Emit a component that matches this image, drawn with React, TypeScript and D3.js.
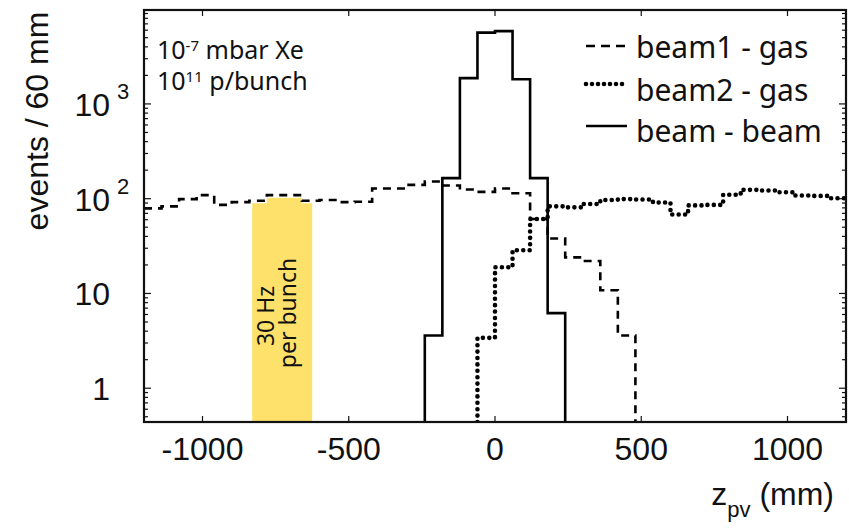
import React, { useEffect, useRef } from 'react';
import * as d3 from 'd3';

const W = 849;
const H = 529;

// histograms, 60 mm bins (events / 60 mm)
const binWidth = 60;
const beam1Start = -1200;
const beam1Values = [79, 83, 99, 109, 86, 92, 95, 109, 109, 95, 97, 92, 93, 128, 128, 140, 152, 138, 125, 118, 128, 114, 61, 38, 24, 22, 10.8, 3.6];
const beam2Start = -60;
const beam2Values = [3.4, 18.9, 28.6, 61, 83, 81, 88, 97, 99, 98, 91, 68, 85, 86, 110, 124, 122, 117, 108, 107, 101];
const beamBeamStart = -240;
const beamBeamValues = [3.6, 165, 1870, 5650, 5870, 1820, 165, 6.2];

// highlighted band (mm)
const bandRange = [-830, -625];
const bandLines = ['30 Hz', 'per bunch'];

const xTicks = [-1000, -500, 0, 500, 1000];
const yTicks = [1, 10, 100, 1000];
const yTickBase = ['1', '10', '10', '10'];
const yTickExp = ['', '', '2', '3'];

const legendLabels = ['beam1 - gas', 'beam2 - gas', 'beam - beam'];
const noteLines = [
  { base: '10', exp: '-7', rest: ' mbar Xe' },
  { base: '10', exp: '11', rest: ' p/bunch' },
];

const axisFont = '"Liberation Sans", Arial, Helvetica, sans-serif';
const textFont = '"Noto Sans", "Open Sans", sans-serif';

const margin = { top: 10, right: 3, bottom: 107, left: 144 };

// step outline of a histogram, optionally dropping to the floor at the ends
const stepPoints = (start: number, values: number[], floor: number, dropStart: boolean, dropEnd: boolean) => {
  const pts: [number, number][] = [];
  if (dropStart) pts.push([start, floor]);
  values.forEach((v, i) => {
    const x0 = start + i * binWidth;
    pts.push([x0, v], [x0 + binWidth, v]);
  });
  if (dropEnd) pts.push([start + values.length * binWidth, floor]);
  return pts;
};

const drawChart = (el: SVGSVGElement) => {
  const svg = d3.select(el);
  svg.selectAll('*').remove();

  const x = d3.scaleLinear().domain([-1200, 1200]).range([margin.left, W - margin.right]);
  const y = d3.scaleLog().domain([0.44, 9800]).range([H - margin.bottom, margin.top]);
  const [x0, x1] = x.range();
  const [yb, yt] = y.range();
  const floor = y.domain()[0];

  svg.append('rect').attr('width', W).attr('height', H).attr('fill', '#fff');

  svg.append('clipPath').attr('id', 'plotClip')
    .append('rect').attr('x', x0).attr('y', yt).attr('width', x1 - x0).attr('height', yb - yt);

  const plot = svg.append('g').attr('clip-path', 'url(#plotClip)');

  // yellow band: area under beam1 histogram within the band range
  const b1 = stepPoints(beam1Start, beam1Values, floor, false, true);
  const band = b1.filter((d) => d[0] > bandRange[0] && d[0] < bandRange[1]);
  const valAt = (mm: number) => beam1Values[Math.floor((mm - beam1Start) / binWidth)];
  const bandPts: [number, number][] = [[bandRange[0], valAt(bandRange[0])], ...band, [bandRange[1], valAt(bandRange[1])]];
  plot.append('path')
    .attr('d', d3.area<[number, number]>().x((d) => x(d[0])).y0(yb).y1((d) => y(d[1]) + 2.5)(bandPts))
    .attr('fill', '#fde16b');

  const line = d3.line<[number, number]>().x((d) => x(d[0])).y((d) => y(d[1]));

  plot.append('path')
    .attr('d', line(b1))
    .attr('fill', 'none').attr('stroke', '#000').attr('stroke-width', 2.6)
    .attr('stroke-dasharray', '8 6');

  plot.append('path')
    .attr('d', line(stepPoints(beam2Start, beam2Values, floor, true, false)))
    .attr('fill', 'none').attr('stroke', '#000').attr('stroke-width', 4.6)
    .attr('stroke-linecap', 'round').attr('stroke-dasharray', '0 6.4');

  plot.append('path')
    .attr('d', line(stepPoints(beamBeamStart, beamBeamValues, floor, true, true)))
    .attr('fill', 'none').attr('stroke', '#000').attr('stroke-width', 2.6);

  // band text
  bandLines.forEach((t, i) => {
    svg.append('text')
      .attr('transform', `translate(${[274, 296][i]}, ${[316, 313][i]}) rotate(-90)`)
      .attr('text-anchor', 'middle')
      .attr('font-family', textFont).attr('font-size', 23).attr('fill', '#111')
      .text(t);
  });

  // frame
  svg.append('rect')
    .attr('x', x0).attr('y', yt).attr('width', x1 - x0).attr('height', yb - yt)
    .attr('fill', 'none').attr('stroke', '#111').attr('stroke-width', 2.2);

  // x ticks (inside, bottom and top)
  const tickG = svg.append('g').attr('stroke', '#111').attr('stroke-width', 1.2);
  xTicks.forEach((t) => {
    tickG.append('line').attr('x1', x(t)).attr('x2', x(t)).attr('y1', yb).attr('y2', yb - 6);
    tickG.append('line').attr('x1', x(t)).attr('x2', x(t)).attr('y1', yt).attr('y2', yt + 6);
  });

  // y ticks (log, minor + major, inside left and right)
  y.ticks().forEach((t) => {
    const major = Math.abs(Math.log10(t) - Math.round(Math.log10(t))) < 1e-9;
    const len = major ? 7 : 4;
    tickG.append('line').attr('x1', x0).attr('x2', x0 + len).attr('y1', y(t)).attr('y2', y(t));
    tickG.append('line').attr('x1', x1).attr('x2', x1 - len).attr('y1', y(t)).attr('y2', y(t));
  });

  // x tick labels
  svg.append('g').selectAll('text').data(xTicks).join('text')
    .attr('x', (d) => x(d)).attr('y', 460)
    .attr('text-anchor', 'middle')
    .attr('font-family', axisFont).attr('font-size', 32).attr('fill', '#111')
    .text((d) => `${d}`);

  // y tick labels
  yTicks.forEach((t, i) => {
    svg.append('text')
      .attr('x', 110).attr('y', y(t) + 12)
      .attr('text-anchor', 'end')
      .attr('font-family', axisFont).attr('font-size', 32).attr('fill', '#111')
      .text(yTickBase[i]);
    if (yTickExp[i]) {
      svg.append('text')
        .attr('x', 117).attr('y', y(t) - 5)
        .attr('font-family', axisFont).attr('font-size', 22).attr('fill', '#111')
        .text(yTickExp[i]);
    }
  });

  // axis titles
  svg.append('text')
    .attr('transform', `translate(48, 121) rotate(-90)`)
    .attr('text-anchor', 'middle')
    .attr('font-family', axisFont).attr('font-size', 32).attr('fill', '#111')
    .text('events / 60 mm');

  const xt = svg.append('text')
    .attr('x', 834).attr('y', 505)
    .attr('text-anchor', 'end')
    .attr('font-family', axisFont).attr('font-size', 32).attr('fill', '#111');
  xt.append('tspan').text('z');
  xt.append('tspan').attr('font-size', 22).attr('dy', 12).text('pv');
  xt.append('tspan').attr('dy', -12).text(' (mm)');

  // conditions note
  noteLines.forEach((n, i) => {
    const t = svg.append('text')
      .attr('x', 157).attr('y', 59 + i * 31)
      .attr('font-family', textFont).attr('font-size', 25).attr('fill', '#111');
    t.append('tspan').text(n.base);
    t.append('tspan').attr('font-size', 15).attr('dy', -8).text(n.exp);
    t.append('tspan').attr('dy', 8).text(n.rest);
  });

  // legend
  const legendY = [46, 84, 126];
  const legendBase = [58, 101, 142];
  const styles = [
    { w: 2.6, dash: '9 6', cap: 'butt' },
    { w: 4.6, dash: '0 6', cap: 'round' },
    { w: 2.6, dash: null, cap: 'butt' },
  ];
  legendLabels.forEach((lab, i) => {
    svg.append('line')
      .attr('x1', 586).attr('x2', 627).attr('y1', legendY[i]).attr('y2', legendY[i])
      .attr('stroke', '#000').attr('stroke-width', styles[i].w)
      .attr('stroke-linecap', styles[i].cap)
      .attr('stroke-dasharray', styles[i].dash);
    svg.append('text')
      .attr('x', 636).attr('y', legendBase[i])
      .attr('font-family', textFont).attr('font-size', 30).attr('fill', '#111')
      .text(lab);
  });
};

export default function App() {
  const svgRef = useRef<SVGSVGElement>(null);

  useEffect(() => {
    if (svgRef.current) drawChart(svgRef.current);
  }, []);

  return (
    <svg
      ref={svgRef}
      width={W}
      height={H}
      style={{ position: 'absolute', left: 0, top: 0, display: 'block' }}
    />
  );
}
